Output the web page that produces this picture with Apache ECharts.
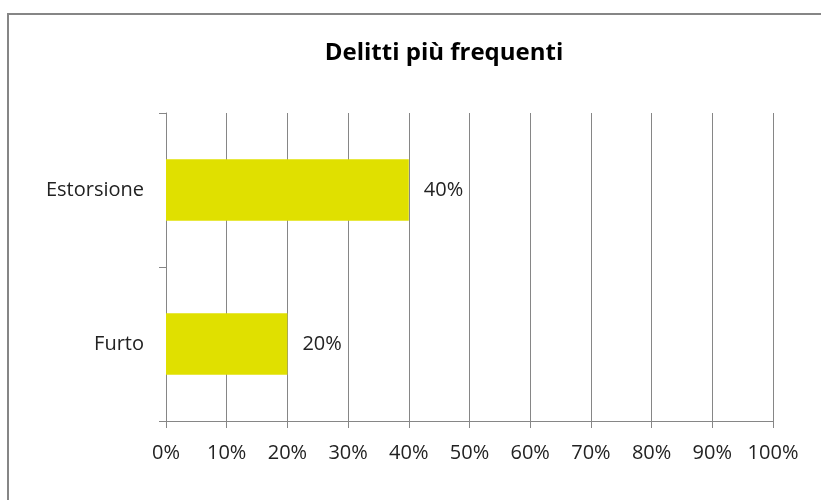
<!DOCTYPE html>
<html><head><meta charset="utf-8">
<script src="https://cdn.jsdelivr.net/npm/echarts@6/dist/echarts.min.js"></script>
<style>html,body{margin:0;padding:0;background:#fff}#c{width:821px;height:500px}</style>
</head><body><div id="c"></div>
<script>
const categories = ['Furto', 'Estorsione'];
const values = [20, 40];
const xTicks = [0, 10, 20, 30, 40, 50, 60, 70, 80, 90, 100];
const title = 'Delitti più frequenti';

const chart = echarts.init(document.getElementById('c'), null, {renderer: 'canvas'});
const font = '"Open Sans", sans-serif';
chart.setOption({
  animation: false,
  backgroundColor: '#ffffff',
  graphic: [{
    type: 'rect', shape: {x: 8, y: 14, width: 900, height: 600},
    style: {fill: 'none', stroke: '#868686', lineWidth: 2}, silent: true
  }],
  title: {
    text: title, left: 444, top: 36, textAlign: 'center',
    textStyle: {fontFamily: font, fontWeight: 'bold', fontSize: 24, color: '#000'}
  },
  grid: {left: 166, right: 48, top: 113, bottom: 79, containLabel: false},
  xAxis: {
    type: 'value', min: xTicks[0], max: xTicks[xTicks.length - 1], interval: 10,
    axisLine: {show: true, lineStyle: {color: '#868686', width: 1}},
    axisTick: {show: true, length: 7, lineStyle: {color: '#868686'}},
    splitLine: {show: true, lineStyle: {color: '#868686', width: 1}},
    axisLabel: {formatter: '{value}%', fontFamily: font, fontSize: 20, color: '#222', margin: 22}
  },
  yAxis: {
    type: 'category', data: categories,
    axisLine: {show: true, lineStyle: {color: '#868686', width: 1}},
    axisTick: {show: true, length: 7, lineStyle: {color: '#868686'}},
    axisLabel: {fontFamily: font, fontSize: 20, color: '#222', margin: 22}
  },
  series: [{
    type: 'bar', data: values, barWidth: '40%',
    itemStyle: {color: '#E0E000'},
    label: {show: true, position: 'right', distance: 15, formatter: '{c}%',
            fontFamily: font, fontSize: 20, color: '#222'}
  }]
});
chart.setOption({title: {left: 439}});
</script></body></html>
